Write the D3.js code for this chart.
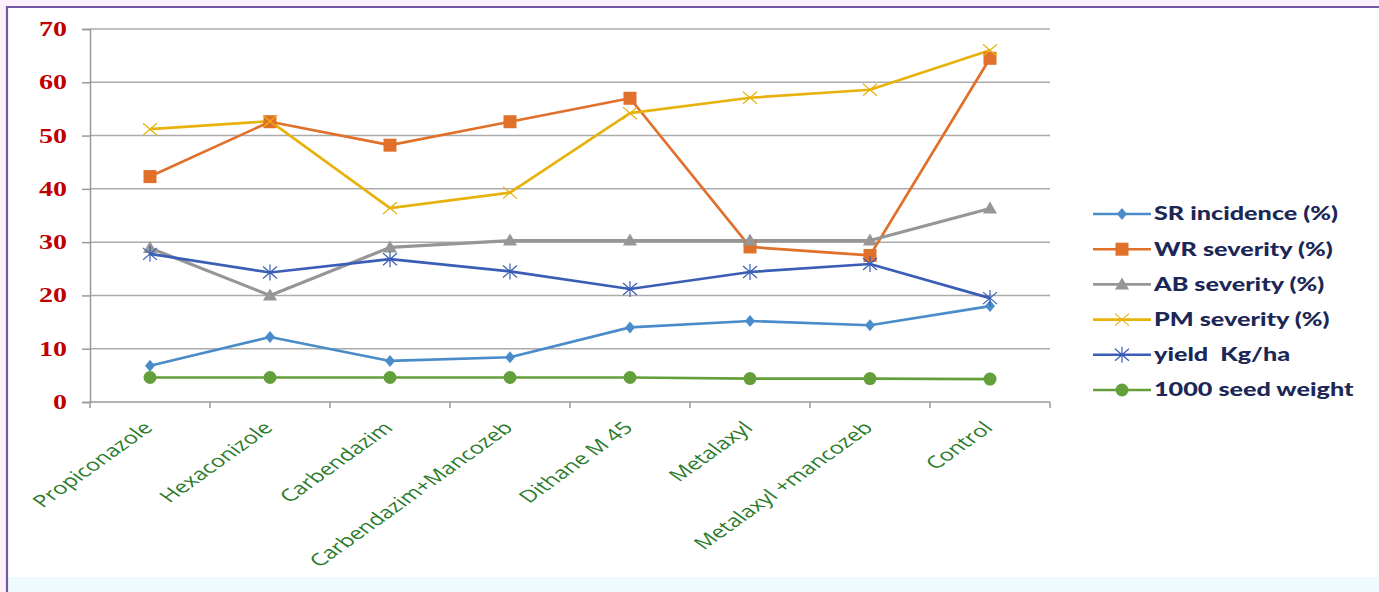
<!DOCTYPE html>
<html>
<head>
<meta charset="utf-8">
<script src="https://cdn.jsdelivr.net/npm/d3@7"></script>
<style>
  body { margin: 0; background: #fdf1fd; }
  svg { display: block; }
</style>
</head>
<body>
<script>
// Chart data

let categories = ["Propiconazole", "Hexaconizole", "Carbendazim", "Carbendazim+Mancozeb",
    "Dithane M 45", "Metalaxyl", "Metalaxyl +mancozeb", "Control"]

let srIncidence = [6.8, 12.2, 7.7, 8.4, 14.0, 15.2, 14.4, 18.0]
let wrSeverity = [42.3, 52.6, 48.2, 52.6, 57.0, 29.1, 27.5, 64.5]
let abSeverity = [28.9, 20.0, 29.0, 30.3, 30.3, 30.3, 30.3, 36.3]
let pmSeverity = [51.2, 52.7, 36.4, 39.3, 54.2, 57.1, 58.6, 66.0]
let yieldKg = [27.8, 24.3, 26.8, 24.5, 21.2, 24.4, 25.9, 19.5]
let seedWeight = [4.6, 4.6, 4.6, 4.6, 4.6, 4.4, 4.4, 4.3]

let yTicks = [0, 10, 20, 30, 40, 50, 60, 70]

let series = [
    { name: "SR incidence (%)", values: srIncidence, color: "#4a8bc9", marker: "diamond" },
    { name: "WR severity (%)", values: wrSeverity, color: "#e0702a", marker: "square" },
    { name: "AB severity (%)", values: abSeverity, color: "#969696", marker: "triangle" },
    { name: "PM severity (%)", values: pmSeverity, color: "#e8b20c", marker: "cross" },
    { name: "yield  Kg/ha", values: yieldKg, color: "#3a5db5", marker: "star" },
    { name: "1000 seed weight", values: seedWeight, color: "#63a03b", marker: "circle" }
]

// Container sizing

let width = 1379
let height = 592

let margin = { left: 90, top: 29, right: 329, bottom: 190 }
let chartWidth = width - margin.left - margin.right
let chartHeight = height - margin.top - margin.bottom

// the original picture is stretched sideways, text follows it
let stretch = 1.4

let svg = d3.select("body")
    .append("svg")
    .attr("width", width)
    .attr("height", height)

// Background, frame and bottom strip
svg.append("rect")
    .attr("x", 7).attr("y", 6)
    .attr("width", width - 7).attr("height", height - 6)
    .attr("fill", "#ffffff")

svg.append("rect")
    .attr("x", 8).attr("y", 577)
    .attr("width", width - 8).attr("height", 15)
    .attr("fill", "#eefafd")

svg.append("path")
    .attr("d", `M7,${height} V7 H${width}`)
    .attr("fill", "none")
    .attr("stroke", "#7657a3")
    .attr("stroke-width", 2.2)

let chartGroup = svg.append("g")
    .attr("transform", `translate(${margin.left}, ${margin.top})`)

// Scales
let xBand = d3.scaleBand()
    .domain(categories)
    .range([0, chartWidth])

let xScale = d => xBand(d) + xBand.bandwidth() / 2

let yScale = d3.scaleLinear()
    .domain([0, 70])
    .range([chartHeight, 0])

// Gridlines
chartGroup.append("g")
    .selectAll("line")
    .data(yTicks.filter(t => t > 0))
    .join("line")
    .attr("x1", 0)
    .attr("x2", chartWidth)
    .attr("y1", d => yScale(d))
    .attr("y2", d => yScale(d))
    .attr("stroke", "#ababab")
    .attr("stroke-width", 1.5)

// Axes
let yAxis = d3.axisLeft(yScale)
    .tickValues(yTicks)
    .tickSize(8)
    .tickFormat("")

let yAxisGroup = chartGroup.append("g").call(yAxis)
yAxisGroup.select(".domain").attr("stroke", "#9a9a9a").attr("stroke-width", 1.5)
yAxisGroup.selectAll(".tick line").attr("stroke", "#9a9a9a").attr("stroke-width", 1.5)

chartGroup.append("g")
    .selectAll("g")
    .data(yTicks)
    .join("g")
    .attr("transform", d => `translate(-23, ${yScale(d)}) scale(${stretch}, 1)`)
    .append("text")
    .attr("text-anchor", "end")
    .attr("dy", "0.35em")
    .attr("font-family", "Liberation Serif, serif")
    .attr("font-weight", "bold")
    .attr("font-size", 20)
    .attr("fill", "#c00000")
    .text(d => d)

let xAxisGroup = chartGroup.append("g")
    .attr("transform", `translate(0, ${chartHeight})`)

xAxisGroup.append("line")
    .attr("x1", 0).attr("x2", chartWidth)
    .attr("stroke", "#9a9a9a").attr("stroke-width", 1.5)

xAxisGroup.selectAll("line.tick")
    .data(d3.range(categories.length + 1))
    .join("line")
    .attr("class", "tick")
    .attr("x1", i => i * xBand.bandwidth())
    .attr("x2", i => i * xBand.bandwidth())
    .attr("y1", 0).attr("y2", 6)
    .attr("stroke", "#9a9a9a").attr("stroke-width", 1.5)

xAxisGroup.selectAll("text")
    .data(categories)
    .join("text")
    .attr("transform", d => `translate(${xScale(d) + 4}, 27) scale(${stretch}, 1) rotate(-45)`)
    .attr("text-anchor", "end")
    .attr("font-family", "Open Sans, sans-serif")
    .attr("font-size", 17)
    .attr("fill", "#2a7a2a")
    .text(d => d)

// Marker drawing
function drawMarker(g, type, color) {
    if (type === "diamond") {
        g.append("path").attr("d", "M0,-6 L5,0 L0,6 L-5,0 Z").attr("fill", color)
    } else if (type === "square") {
        g.append("rect").attr("x", -6.5).attr("y", -6.5).attr("width", 13).attr("height", 13).attr("fill", color)
    } else if (type === "triangle") {
        g.append("path").attr("d", "M0,-7 L7,5 L-7,5 Z").attr("fill", color)
    } else if (type === "cross") {
        g.append("path").attr("d", "M-7,-6 L7,6 M-7,6 L7,-6").attr("stroke", color).attr("stroke-width", 1.2).attr("fill", "none")
    } else if (type === "star") {
        g.append("path").attr("d", "M-7,-6 L7,6 M-7,6 L7,-6 M0,-8 V8").attr("stroke", color).attr("stroke-width", 1.2).attr("fill", "none")
    } else if (type === "circle") {
        g.append("circle").attr("r", 6.5).attr("fill", color)
    }
}

// Lines
let line = d3.line()
    .x((d, i) => xScale(categories[i]))
    .y(d => yScale(d))

series.forEach(s => {
    chartGroup.append("path")
        .datum(s.values)
        .attr("d", line)
        .attr("fill", "none")
        .attr("stroke", s.color)
        .attr("stroke-width", s.marker === "triangle" ? 3.2 : 2.7)
        .attr("stroke-linejoin", "round")
})

series.forEach(s => {
    chartGroup.selectAll(null)
        .data(s.values)
        .join("g")
        .attr("transform", (d, i) => `translate(${xScale(categories[i])}, ${yScale(d)})`)
        .each(function() { drawMarker(d3.select(this), s.marker, s.color) })
})

// Legend
let legend = svg.append("g")
    .attr("transform", "translate(1093, 214)")

let legendRows = legend.selectAll("g")
    .data(series)
    .join("g")
    .attr("transform", (d, i) => `translate(0, ${i * 35.2})`)

legendRows.append("line")
    .attr("x1", 0).attr("x2", 58)
    .attr("stroke", d => d.color)
    .attr("stroke-width", 2.6)

legendRows.each(function(d) {
    let g = d3.select(this).append("g").attr("transform", "translate(29, 0)")
    drawMarker(g, d.marker, d.color)
})

legendRows.append("text")
    .attr("transform", `translate(61, 0) scale(${stretch}, 1)`)
    .attr("dy", "0.35em")
    .attr("font-family", "Lato, sans-serif")
    .attr("font-weight", 900)
    .attr("font-size", 18)
    .attr("fill", "#1c2756")
    .style("white-space", "pre")
    .text(d => d.name)
</script>
</body>
</html>
